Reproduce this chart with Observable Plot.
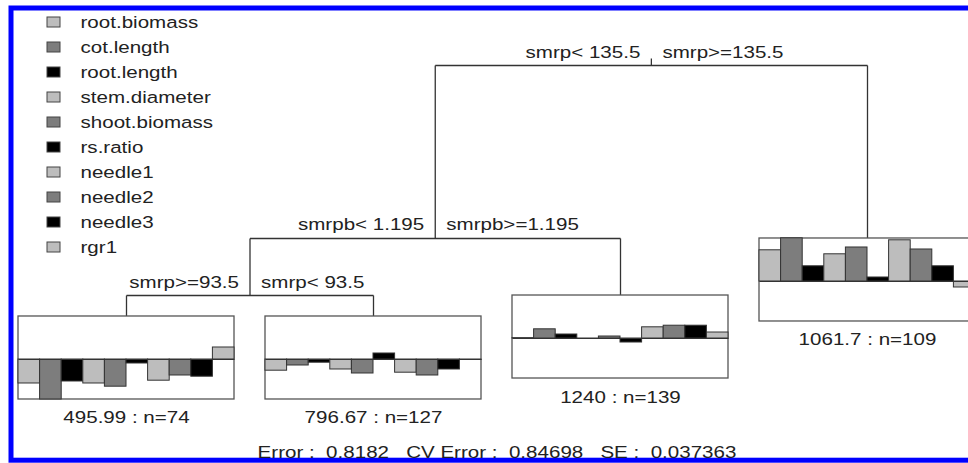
<!DOCTYPE html>
<html><head><meta charset="utf-8">
<script src="https://cdn.jsdelivr.net/npm/d3@7"></script>
<script src="https://cdn.jsdelivr.net/npm/@observablehq/plot@0.6"></script>
<style>
html,body{margin:0;padding:0;background:#fff;overflow:hidden}
</style></head><body><div id="chart"></div>
<script>
// ---------- data ----------
const variables = ["root.biomass","cot.length","root.length","stem.diameter","shoot.biomass","rs.ratio","needle1","needle2","needle3","rgr1"];
const shades = ["#bdbdbd","#7d7d7d","#000000"];
// rpart node numbering: node n has children 2n and 2n+1
const splitNode = [1, 2, 4];
const splitLeft = ["smrp< 135.5", "smrpb< 1.195", "smrp>=93.5"];
const splitRight = ["smrp>=135.5", "smrpb>=1.195", "smrp< 93.5"];
const depthRelError = [1.0, 0.8747, 0.8334, 0.8182];
const leafNode = [8, 9, 5, 3];
const leafLabel = ["495.99 : n=74", "796.67 : n=127", "1240 : n=139", "1061.7 : n=109"];
const leaf8Means = [-0.60, -1.00, -0.55, -0.60, -0.68, -0.10, -0.53, -0.40, -0.43, 0.30];
const leaf9Means = [-0.28, -0.15, -0.08, -0.25, -0.35, 0.15, -0.33, -0.40, -0.25, -0.01];
const leaf5Means = [0.01, 0.23, 0.10, -0.01, 0.05, -0.10, 0.28, 0.32, 0.32, 0.15];
const leaf3Means = [0.78, 1.08, 0.38, 0.68, 0.85, 0.10, 1.03, 0.80, 0.38, -0.15];
const errorText = "Error :  0.8182   CV Error :  0.84698   SE :  0.037363";

// ---------- layout ----------
const W = 968, H = 463;
const xPx = 247;     // pixels per leaf slot
const yPx = 1380.6;  // pixels per unit of relative error
const xDomain = [1 - 126 / xPx, 1 + (W - 126) / xPx];
const yTop = depthRelError[0] + 65 / yPx;
const yDomain = [yTop - H / yPx, yTop];
const ux = p => p / xPx, uy = p => p / yPx;
const atX = p => xDomain[0] + ux(p), atY = p => yTop - uy(p);

const leafMeans = [leaf8Means, leaf9Means, leaf5Means, leaf3Means];
const depth = n => Math.floor(Math.log2(n));
const nodeX = new Map();
leafNode.forEach((n, i) => nodeX.set(n, i + 1));
function xOf(n) { if (!nodeX.has(n)) nodeX.set(n, (xOf(2 * n) + xOf(2 * n + 1)) / 2); return nodeX.get(n); }
const yOf = n => depthRelError[depth(n)];

const edges = [];
splitNode.forEach(n => {
  const y = yOf(n);
  edges.push({x1: xOf(2 * n), x2: xOf(2 * n + 1), y1: y, y2: y});
  for (const c of [2 * n, 2 * n + 1]) edges.push({x1: xOf(c), x2: xOf(c), y1: y, y2: yOf(c)});
});
edges.push({x1: xOf(1), x2: xOf(1), y1: yOf(1), y2: yOf(1) + uy(7)});

const boxW = ux(216), boxH = uy(83), baseOff = uy(43), barK = uy(40);
const boxes = leafNode.map((n, i) => ({
  x: xOf(n), x1: xOf(n) - boxW / 2, x2: xOf(n) + boxW / 2,
  y1: yOf(n), y2: yOf(n) - boxH, base: yOf(n) - baseOff, label: leafLabel[i]
}));
const bars = [];
boxes.forEach((b, j) => leafMeans[j].forEach((v, i) => bars.push({
  variable: variables[i], x1: b.x1 + i * boxW / 10, x2: b.x1 + (i + 1) * boxW / 10,
  y1: b.base, y2: b.base + v * barK
})));
const legend = variables.map((v, i) => ({variable: v, y: atY(22 + 25 * i)}));

const font = {fontFamily: "'Liberation Sans', Arial, sans-serif", fontSize: 17, fill: "#222"};

const svg = Plot.plot({
  width: W, height: H, margin: 0,
  x: {domain: xDomain, range: [0, W], axis: null},
  y: {domain: yDomain, range: [H, 0], axis: null},
  color: {domain: variables, range: variables.map((_, i) => shades[i % 3])},
  marks: [
    Plot.frame({stroke: "#0000ff", strokeWidth: 5, insetLeft: 10.5, insetTop: 7.5, insetBottom: 3.3, insetRight: -20}),
    Plot.link(edges, {x1: "x1", x2: "x2", y1: "y1", y2: "y2", stroke: "#333", strokeWidth: 1.3}),
    Plot.rect(boxes, {x1: "x1", x2: "x2", y1: "y1", y2: "y2", fill: "white", stroke: "#555", strokeWidth: 1.3}),
    Plot.rect(bars, {x1: "x1", x2: "x2", y1: "y1", y2: "y2", fill: "variable", stroke: "#333", strokeWidth: 1}),
    Plot.link(boxes, {x1: "x1", x2: "x2", y1: "base", y2: "base", stroke: "#333", strokeWidth: 1.2}),
    Plot.text(splitNode, {x: xOf, y: yOf, text: (n, i) => splitLeft[i], textAnchor: "end", lineAnchor: "bottom", dx: -11, dy: -8, ...font}),
    Plot.text(splitNode, {x: xOf, y: yOf, text: (n, i) => splitRight[i], textAnchor: "start", lineAnchor: "bottom", dx: 11, dy: -8, ...font}),
    Plot.text(boxes, {x: "x", y: "y2", text: "label", lineAnchor: "bottom", dy: 24, ...font}),
    Plot.text([errorText], {x: () => d3.mean(leafNode, xOf), frameAnchor: "bottom", lineAnchor: "bottom", dy: -6, ...font}),
    Plot.rect(legend, {x1: () => atX(47), x2: () => atX(60), y1: d => d.y - uy(5), y2: d => d.y + uy(5), fill: "variable", stroke: "#444", strokeWidth: 1}),
    Plot.text(legend, {x: () => atX(80), y: "y", text: "variable", textAnchor: "start", lineAnchor: "middle", ...font})
  ]
});
// the reference text is horizontally stretched
d3.select(svg).selectAll("text").attr("transform", function () {
  return (this.getAttribute("transform") || "") + " scale(1.21,1)";
});
document.getElementById("chart").appendChild(svg);
</script></body></html>
